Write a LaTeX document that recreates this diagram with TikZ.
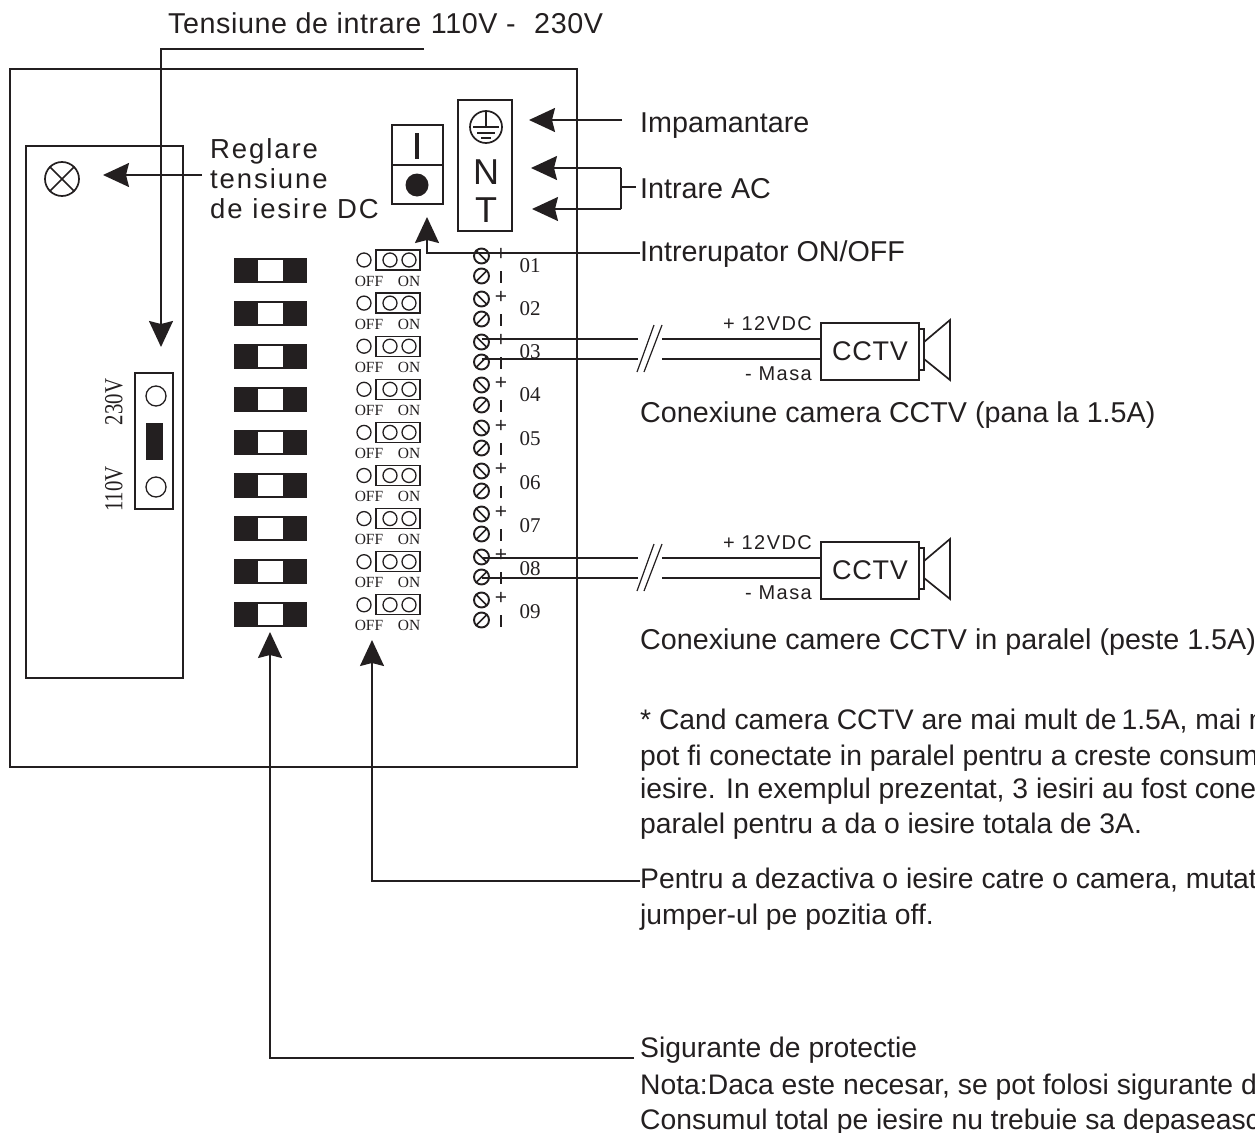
\documentclass[tikz,border=0pt]{standalone}
\usepackage{fontspec}
\setmainfont{Liberation Sans}
\newfontfamily\serifnum{Liberation Serif}
\newfontfamily\spaced[LetterSpace=7]{Liberation Sans}
\newfontfamily\slight[LetterSpace=2]{Liberation Sans}
\newfontfamily\camfont[LetterSpace=3]{Liberation Sans}
\usetikzlibrary{arrows.meta}
\definecolor{ink}{HTML}{231F20}
\tikzset{
  wire/.style={draw=ink,line width=1.7pt},
  heavy/.style={draw=ink,line width=2pt},
  leader/.style={draw=ink,line width=1.8pt,-{Stealth[length=26pt,width=24pt,inset=3pt]}},
  label/.style={anchor=base west,inner sep=0,text=ink,font=\fontsize{28.7}{30}\selectfont},
  notelabel/.style={anchor=base west,inner sep=0,text=ink,font=\fontsize{28.3}{30}\selectfont},
  spacedlabel/.style={anchor=base west,inner sep=0,text=ink,font=\spaced\fontsize{27.5}{30}\selectfont},
  tiny/.style={anchor=base east,inner sep=0,text=ink,font=\spaced\fontsize{20}{22}\selectfont},
  serif/.style={inner sep=0,text=ink,font=\serifnum\fontsize{21}{24}\selectfont},
  offon/.style={inner sep=0,text=ink,font=\serifnum\fontsize{15.5}{16}\selectfont},
  ring/.style={circle,draw=ink,line width=1.3pt,inner sep=0,minimum size=14pt},
  screw/.style={circle,draw=ink,line width=1.9pt,inner sep=0,minimum size=15pt},
  solid box/.style={fill=ink,inner sep=0},
}
\begin{document}
\begin{tikzpicture}[x=1pt,y=-1pt]
\useasboundingbox (0,0) rectangle (1255,1132);
% enclosures
\node[heavy,draw,minimum width=567pt,minimum height=698pt,inner sep=0] (case) at (293.5,418) {};
\node[heavy,draw,minimum width=157pt,minimum height=532pt,inner sep=0] (panel) at (104.5,412) {};
% lamp
\node[circle,wire,draw,minimum size=34pt,inner sep=0] (lamp) at (62,179) {};
\draw[wire] (lamp.45) -- (lamp.225) (lamp.135) -- (lamp.315);
% voltage selector
\node[wire,draw,minimum width=38pt,minimum height=136pt,inner sep=0] (sel) at (154,441) {};
\node[ring,minimum size=20pt] (sel1) at (156,396) {};
\node[ring,minimum size=20pt] (sel2) at (156,487) {};
\node[solid box,minimum width=17pt,minimum height=37pt] (selj) at (154.5,441.5) {};
\node[serif,font=\serifnum\fontsize{26}{28}\selectfont,rotate=90] (v230) at (114,402) {\scalebox{0.8}[1]{230V}};
\node[serif,font=\serifnum\fontsize{26}{28}\selectfont,rotate=90] (v110) at (114,489) {\scalebox{0.8}[1]{110V}};
% power switch
\node[heavy,draw,minimum width=51pt,minimum height=79pt,inner sep=0] (sw) at (417.5,164.5) {};
\draw[heavy] (sw.west |- 0,165) coordinate (swl) -- (sw.east |- swl);
\node[inner sep=0,fill=ink,minimum width=3.5pt,minimum height=26pt] (swi) at (417,145.5) {};
\node[circle,fill=ink,inner sep=0,minimum size=23pt] (swo) at (417,185) {};
% mains terminal
\node[heavy,draw,minimum width=54pt,minimum height=131pt,inner sep=0] (term) at (485,165.5) {};
\node[circle,wire,draw,minimum size=32pt,inner sep=0] (earth) at (486,127) {};
\draw[wire] (earth.north) -- (earth.center);
\draw[wire] (473,127) coordinate (e1) -- (499,127) coordinate (e2);
\draw[wire] (477,133) coordinate (e3) -- (495,133) coordinate (e4);
\draw[wire] (481,138) coordinate (e5) -- (491,138) coordinate (e6);
\node[inner sep=0,text=ink,font=\fontsize{36}{38}\selectfont] (tn) at (486,172) {N};
\node[inner sep=0,text=ink,font=\fontsize{36}{38}\selectfont] (tt) at (486,210) {T};
% repeated rows
\foreach \i/\n/\ny in {0/01/266,1/02/309,2/03/352,3/04/395,4/05/439,5/06/483,6/07/526,7/08/569,8/09/612}{
  \pgfmathsetmacro{\fy}{270+43*\i}
  \pgfmathsetmacro{\jy}{260+43.1*\i}
  \pgfmathsetmacro{\ty}{281+43*\i}
  \pgfmathsetmacro{\sy}{256+43*\i}
  \pgfmathsetmacro{\my}{276+43*\i}
  % fuse
  \node[solid box,minimum width=73pt,minimum height=25pt] (fuse\n) at (270.5,\fy) {};
  \node[fill=white,inner sep=0,minimum width=25pt,minimum height=21pt] (fusew\n) at (270.5,\fy) {};
  % jumper
  \node[ring] (joff\n) at (364,\jy) {};
  \node[draw=ink,line width=1.3pt,inner sep=0,minimum width=44pt,minimum height=20pt] (jbox\n) at (398,\jy) {};
  \node[ring] (ja\n) at (390,\jy) {};
  \node[ring] (jb\n) at (409,\jy) {};
  \node[offon] (off\n) at (369,\ty) {OFF};
  \node[offon] (on\n) at (409,\ty) {ON};
  % screws
  \node[screw] (sp\n) at (481.5,\sy) {};
  \node[screw] (sm\n) at (481.5,\my) {};
  \draw[wire] (sp\n.135) -- (sp\n.315);
  \draw[wire] (sm\n.225) -- (sm\n.45);
  \node[inner sep=0,text=ink,font=\fontsize{21}{24}\selectfont] (pm\n) at (501,\sy-1.5) {+};
  \node[inner sep=0,fill=ink,minimum width=1.7pt,minimum height=12pt] (mm\n) at (501,\my+1) {};
  \node[serif] (num\n) at (530,\ny) {\n};
}
% camera connections
\foreach \c/\d/\from in {A/0/03,B/219/08}{
  \node[heavy,draw,minimum width=98pt,minimum height=57pt,inner sep=0] (cam\c) at (870,351.5+\d) {};
  \node[inner sep=0,text=ink,font=\camfont\fontsize{27}{30}\selectfont] (camt\c) at (870,351+\d) {CCTV};
  \node[wire,draw,minimum width=5pt,minimum height=41pt,inner sep=0] (neck\c) at (921.5,349.5+\d) {};
  \coordinate (hornA\c) at (924,342+\d);
  \coordinate (hornB\c) at (950,320+\d);
  \coordinate (hornC\c) at (950,380+\d);
  \coordinate (hornD\c) at (924,359+\d);
  \draw[wire,line join=miter] (hornA\c) -- (hornB\c) -- (hornC\c) -- (hornD\c);
  \node[tiny] (plus\c) at (812,330+\d) {+ 12VDC};
  \node[tiny] (gnd\c) at (812,380+\d) {- Masa};
  \coordinate (cutA\c) at (638,339+\d);
  \coordinate (cutB\c) at (638,359+\d);
  \coordinate (resA\c) at (662,339+\d);
  \coordinate (resB\c) at (662,359+\d);
  \draw[wire] (sp\from.center |- cutA\c) -- (cutA\c);
  \draw[wire] (sm\from.center |- cutB\c) -- (cutB\c);
  \draw[wire] (resA\c) -- (cam\c.west |- resA\c);
  \draw[wire] (resB\c) -- (cam\c.west |- resB\c);
  \coordinate (slA\c) at (637,372+\d);
  \coordinate (slB\c) at (654,325+\d);
  \coordinate (slC\c) at (644,372+\d);
  \coordinate (slD\c) at (662,325+\d);
  \draw[draw=ink,line width=1.2pt] (slA\c) -- (slB\c) (slC\c) -- (slD\c);
}
% texts
\node[spacedlabel,font=\slight\fontsize{28.7}{30}\selectfont] (ttop) at (168,34) {Tensiune de intrare\hspace{1pt} 110V -\hspace{10pt} 230V};
\node[spacedlabel] (treg1) at (210,158) {Reglare};
\node[spacedlabel] (treg2) at (210,188) {tensiune};
\node[spacedlabel] (treg3) at (210,218) {de iesire DC};
\node[label] (timp) at (640,132) {Impamantare};
\node[label] (tac) at (640,198) {Intrare AC};
\node[label] (tsw) at (640,261) {Intrerupator ON/OFF};
\node[label] (tc1) at (640,422) {Conexiune camera CCTV (pana la 1.5A)};
\node[label] (tc2) at (640,649) {Conexiune camere CCTV in paralel (peste 1.5A)};
\node[notelabel] (tn1) at (640,729) {* Cand camera CCTV are mai mult de\hspace{-3pt} 1.5A, mai m};
\node[notelabel] (tn2) at (640,765) {pot fi conectate in paralel pentru a creste consum};
\node[notelabel] (tn3) at (640,798) {iesire. In exemplul prezentat, 3 iesiri au fost cone};
\node[notelabel] (tn4) at (640,833) {paralel pentru a da o iesire totala de 3A.};
\node[notelabel] (tj1) at (640,888) {Pentru a dezactiva o iesire catre o camera, mutat};
\node[notelabel] (tj2) at (640,924) {jumper-ul pe pozitia off.};
\node[notelabel] (tf1) at (640,1057) {Sigurante de protectie};
\node[notelabel] (tf2) at (640,1094) {Nota:Daca este necesar, se pot folosi sigurante d};
\node[notelabel] (tf3) at (640,1129) {Consumul total pe iesire nu trebuie sa depaseasc};
% leaders
\coordinate (topend) at (424,49);
\coordinate (seltip) at (161,347);
\draw[leader] (topend) -| (seltip);
\coordinate (regstart) at (202,175);
\coordinate (lamptip) at (103,175);
\draw[leader] (regstart) -- (lamptip);
\coordinate (eatip) at (529,120);
\coordinate (eastart) at (622,120);
\draw[leader] (eastart) -- (eatip);
\coordinate (actop) at (621,168);
\coordinate (acbot) at (621,209);
\coordinate (actipa) at (531,168);
\coordinate (actipb) at (532,209);
\draw[leader] (actop) -- (actipa);
\draw[leader] (acbot) -- (actipb);
\draw[wire] (actop) -- (acbot);
\coordinate (acmid) at (621,187);
\coordinate (acstub) at (636,187);
\draw[wire] (acmid) -- (acstub);
\coordinate (swtip) at (427,217);
\coordinate (swy) at (640,253);
\draw[leader] (swy) -| (swtip);
\coordinate (jtip) at (372,640);
\coordinate (jy) at (640,881);
\draw[leader] (jy) -| (jtip);
\coordinate (ftip) at (270,632);
\coordinate (fy) at (634,1058);
\draw[leader] (fy) -| (ftip);
\end{tikzpicture}
\end{document}
